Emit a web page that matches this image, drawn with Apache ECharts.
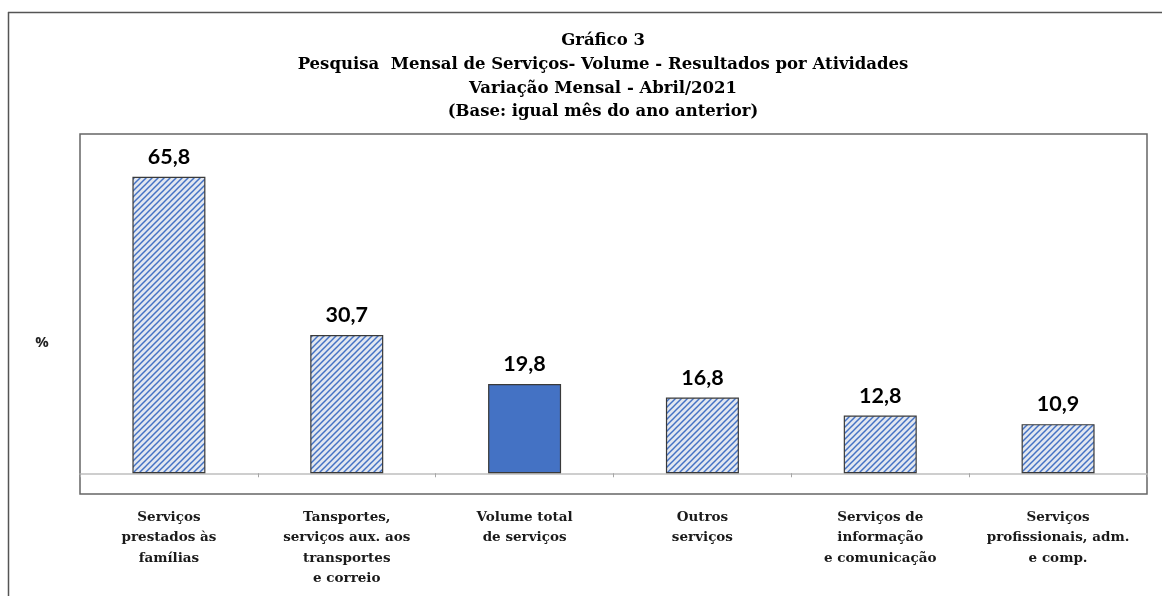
<!DOCTYPE html>
<html>
<head>
<meta charset="utf-8">
<script src="https://cdn.jsdelivr.net/npm/echarts@6/dist/echarts.min.js"></script>
<style>html,body{margin:0;padding:0;background:#fff}#c{width:1162px;height:596px}</style>
</head>
<body>
<div id="c"></div>
<script>
const categories = [
  'Serviços\nprestados às\nfamílias',
  'Tansportes,\nserviços aux. aos\ntransportes\ne correio',
  'Volume total\nde serviços',
  'Outros\nserviços',
  'Serviços de\ninformação\ne comunicação',
  'Serviços\nprofissionais, adm.\ne comp.'
];
const values = [65.8, 30.7, 19.8, 16.8, 12.8, 10.9];
const highlighted = [false, false, true, false, false, false];
const titleLines = ['Gráfico 3', 'Pesquisa  Mensal de Serviços- Volume - Resultados por Atividades', 'Variação Mensal - Abril/2021', '(Base: igual mês do ano anterior)'];
const unitLabel = '%';

function makePattern() {
  const s = 6;
  const cv = document.createElement('canvas');
  cv.width = s; cv.height = s;
  const ctx = cv.getContext('2d');
  ctx.fillStyle = '#e2e7f0';
  ctx.fillRect(0, 0, s, s);
  ctx.strokeStyle = '#4472c4';
  ctx.lineWidth = 1.5;
  for (const off of [-s, 0, s]) {
    ctx.beginPath();
    ctx.moveTo(off - 1, s + 1);
    ctx.lineTo(off + s + 1, -1);
    ctx.stroke();
  }
  return cv;
}
const pattern = { image: makePattern(), repeat: 'repeat' };

const chart = echarts.init(document.getElementById('c'));
chart.setOption({
  animation: false,
  backgroundColor: '#fff',
  grid: { left: 80, right: 15, top: 134, bottom: 102, show: true, borderColor: '#666', borderWidth: 1.5, containLabel: false, outerBoundsMode: 'none' },
  xAxis: {
    type: 'category',
    data: categories,
    axisLine: { onZero: true, lineStyle: { color: '#bfbfbf', width: 1.5 } },
    axisTick: { show: true, length: 4, lineStyle: { color: '#a6a6a6' } },
    axisLabel: {
      interval: 0, margin: 13, color: '#1a1a1a',
      fontFamily: 'DejaVu Serif', fontWeight: 'bold', fontSize: 13.5, lineHeight: 20.5
    }
  },
  yAxis: {
    type: 'value', min: -4.6, max: 75.3,
    axisLine: { show: false }, axisTick: { show: false }, axisLabel: { show: false }, splitLine: { show: false }
  },
  series: [{
    type: 'bar',
    barWidth: 73,
    data: values.map((v, i) => ({
      value: v,
      itemStyle: { color: highlighted[i] ? '#4472c4' : pattern, borderColor: '#3a3a3a', borderWidth: 1.2 }
    })),
    label: {
      show: true, position: 'top', distance: 9, color: '#000',
      fontFamily: 'Lato', fontWeight: 'bold', fontSize: 21.5,
      formatter: p => String(p.value).replace('.', ',')
    }
  }],
  graphic: [
    { type: 'line', shape: { x1: 8.5, y1: 12, x2: 8.5, y2: 596 }, style: { stroke: '#555', lineWidth: 1.5 } },
    { type: 'line', shape: { x1: 8, y1: 12.5, x2: 1162, y2: 12.5 }, style: { stroke: '#555', lineWidth: 1.5 } },
    { type: 'text', x: 603, y: 29, style: {
        text: titleLines.join('\n'), textAlign: 'center', textVerticalAlign: 'top',
        font: 'bold 16.5px "DejaVu Serif"', lineHeight: 23.7, fill: '#000'
      } },
    { type: 'text', x: 42, y: 343, style: {
        text: unitLabel, textAlign: 'center', textVerticalAlign: 'middle',
        font: 'bold 15px "Open Sans"', fill: '#222'
      } }
  ]
});
</script>
</body>
</html>
